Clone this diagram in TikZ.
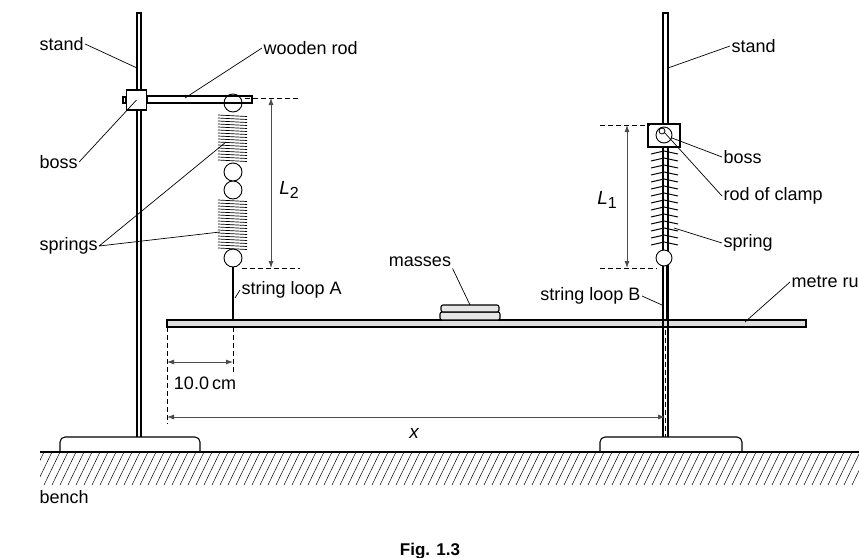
\documentclass[tikz,border=0pt]{standalone}
\usepackage{fontspec}
\setmainfont{Liberation Sans}
\usetikzlibrary{arrows.meta}
\begin{document}
\begin{tikzpicture}[x=1pt,y=-1pt,line width=1.1pt,
  lbl/.style={font=\fontsize{18}{20}\selectfont,inner sep=1pt},
  ilbl/.style={font=\fontsize{19}{20}\selectfont\itshape,inner sep=1pt},
  lead/.style={line width=0.7pt},
  dim/.style={line width=0.8pt,gray!60!black,{Latex[length=7pt,width=5pt]}-{Latex[length=7pt,width=5pt]}},
  dsh/.style={line width=0.7pt,dash pattern=on 5pt off 3pt}]
\useasboundingbox (0,0) rectangle (859,557);
% bench
\draw[line width=1.3pt] (40,452)--(859,452);
\begin{scope}
\clip (40,452) rectangle (859,485);
\foreach \x in {20,28,...,870} \draw[line width=0.5pt] (\x,485)--(\x+16,452);
\end{scope}
% bases
\draw[rounded corners=5pt] (60,452)--(60,437)--(200,437)--(200,452);
\draw[rounded corners=5pt] (600,452)--(600,437)--(742,437)--(742,452);
% left stand
\draw (137,437)--(137,13)--(141,13)--(141,437);
\draw[fill=white] (123,97) rectangle (126,103);
\draw[fill=white] (147,96) rectangle (252,103);
\node[draw,fill=white,minimum size=20pt,inner sep=0,line width=1.1pt] (bossL) at (136.5,100) {};
% left springs
\draw[line width=0.9pt] (233,103) circle (9);
\foreach \y in {115,118,...,160} \draw[line width=0.7pt] (218,\y)--(247,\y+1.5);
\draw[line width=0.9pt] (233,172) circle (9) (233,190) circle (9);
\foreach \y in {200,203,...,248} \draw[line width=0.7pt] (218,\y)--(247,\y+1.5);
\draw[line width=0.9pt] (233,258) circle (9);
\draw[line width=1.5pt] (233,267)--(233,327);
% L2
\draw[dsh] (245,98)--(300,98) (242,268)--(300,268);
\draw[dim] (271,98)--(271,268);
\node[ilbl] (L2) at (289,190) {L\raisebox{-4pt}{\normalfont\fontsize{16}{18}\selectfont 2}};
% metre rule
\draw[fill=gray!25] (167,320) rectangle (806,327);
% right stand
\draw (663,437)--(663,13)--(668,13)--(668,437);
\draw[dsh,line width=0.5pt] (665.5,330)--(665.5,437);
\draw[fill=white] (648,124) rectangle (680,147);
\draw[line width=0.9pt] (664,135) circle (8);
\draw[line width=0.8pt] (662,131) circle (3);
\foreach \y in {154,161,...,246} \draw[line width=1pt] (651,\y)--(664,\y-3)--(678,\y);
\draw[line width=0.9pt,fill=white] (664,258) circle (8);
% string B
\draw[line width=0.8pt] (662,266)--(662,320) (666,266)--(666,320);
% L1
\draw[dsh] (600,125)--(650,125) (600,268)--(657,268);
\draw[dim] (627,125)--(627,268);
\node[ilbl] (L1) at (607,200) {L\raisebox{-4pt}{\normalfont\fontsize{16}{18}\selectfont 1}};
% masses
\draw[fill=gray!20,rounded corners=2pt] (440,312) rectangle (500,320);
\draw[fill=gray!20,rounded corners=2pt] (441,305) rectangle (499,312);
% dimension lines
\draw[dsh] (167,327)--(167,424) (233,327)--(233,375);
\draw[dim] (167,362)--(233,362);
\node[lbl] (cm) at (205,383) {10.0\,cm};
\draw[dim] (167,417)--(665,417);
\node[ilbl] (xl) at (414,433) {x};
% labels
\node[lbl,anchor=west] (st1) at (38,44) {stand};
\draw[lead] (st1.east)--(137,68);
\node[lbl,anchor=west] (wr) at (262,48) {wooden rod};
\draw[lead] (wr.west)--(185,98);
\node[lbl,anchor=west] (bo1) at (38,162) {boss};
\draw[lead] (bo1.east)--(bossL.center);
\node[lbl,anchor=west] (spr) at (38,246) {springs};
\draw[lead] (spr.east)--(226,142) (spr.east)--(220,232);
\node[lbl,anchor=west] (sla) at (240,290) {string loop A};
\draw[lead] (sla.west)--(235,298);
\node[lbl] (ms) at (420,262) {masses};
\draw[lead] (ms.south east)--(470,305);
\node[lbl,anchor=east] (slb) at (642,296) {string loop B};
\draw[lead] (slb.east)--(662,305);
\node[lbl,anchor=west] (mr) at (790,282) {metre ru};
\draw[lead] (mr.west)--(745,322);
\node[lbl,anchor=west] (st2) at (730,46) {stand};
\draw[lead] (st2.west)--(668,68);
\node[lbl,anchor=west] (bo2) at (722,157) {boss};
\draw[lead] (bo2.west)--(672,138);
\node[lbl,anchor=west] (rc) at (722,196) {rod of clamp};
\draw[lead] (rc.west)--(664,132);
\node[lbl,anchor=west] (sp) at (722,243) {spring};
\draw[lead] (sp.west)--(674,228);
\node[lbl,anchor=west] (be) at (38,497) {bench};
\node[lbl,font=\fontsize{17}{18}\selectfont\bfseries] (fig) at (430,551) {Fig. 1.3};
\end{tikzpicture}
\end{document}
